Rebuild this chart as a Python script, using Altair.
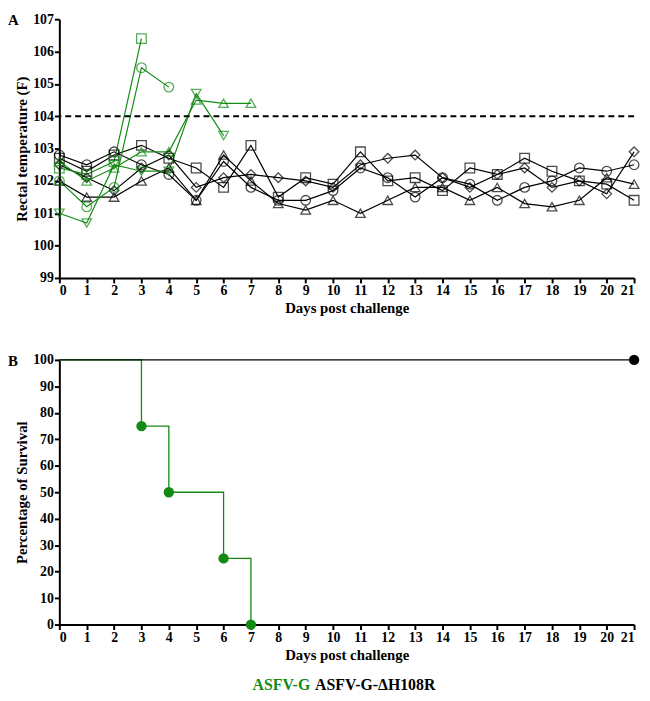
import altair as alt
import pandas as pd

days = list(range(22))

# ASFV-G-ΔH108R (black) rectal temperatures, days 0-21
blk_circle = [102.8, 102.5, 102.9, 102.5, 102.2, 101.4, 102.6, 101.8, 101.4, 101.4, 101.7, 102.4,
              102.1, 101.5, 102.1, 101.9, 101.4, 101.8, 102.0, 102.4, 102.3, 102.5]
blk_square = [102.7, 102.3, 102.8, 103.1, 102.7, 102.4, 101.8, 103.1, 101.5, 102.1, 101.9, 102.9,
              102.0, 102.1, 101.7, 102.4, 102.2, 102.7, 102.3, 102.0, 101.9, 101.4]
blk_triangle = [102.0, 101.5, 101.5, 102.0, 102.4, 101.4, 102.8, 102.0, 101.3, 101.1, 101.4, 101.0,
                101.4, 101.8, 101.8, 101.4, 101.8, 101.3, 101.2, 101.4, 102.1, 101.9]
blk_diamond = [102.5, 102.1, 101.7, 102.4, 102.8, 101.8, 102.1, 102.2, 102.1, 102.0, 101.8, 102.5,
               102.7, 102.8, 102.1, 101.8, 102.2, 102.4, 101.8, 102.0, 101.6, 102.9]

# ASFV-G (green) rectal temperatures until death
grn_circle = [102.0, 101.2, 101.8, 105.5, 104.9]
grn_square = [102.4, 102.2, 102.6, 106.4]
grn_tri_up = [102.6, 102.0, 102.4, 102.9, 102.9, 104.5, 104.4, 104.4]
grn_tri_down = [101.0, 100.7, 102.5, 102.3, 102.3, 104.7, 103.4]

# survival
surv_g_days = [0, 3, 4, 6, 7]
surv_g_pct = [100, 75, 50, 25, 0]
surv_g_death_days = [3, 4, 6, 7]
surv_g_death_pct = [75, 50, 25, 0]
surv_k_days = [0, 21]
surv_k_pct = [100, 100]

GREEN = "#138a13"
FONT = "Liberation Serif, Times New Roman, serif"

series = [
    ("B1", "ASFV-G-ΔH108R", "circle", blk_circle),
    ("B2", "ASFV-G-ΔH108R", "square", blk_square),
    ("B3", "ASFV-G-ΔH108R", "triangle-up", blk_triangle),
    ("B4", "ASFV-G-ΔH108R", "diamond", blk_diamond),
    ("G1", "ASFV-G", "circle", grn_circle),
    ("G2", "ASFV-G", "square", grn_square),
    ("G3", "ASFV-G", "triangle-up", grn_tri_up),
    ("G4", "ASFV-G", "triangle-down", grn_tri_down),
]
rows = []
for pig, grp, shp, vals in series:
    for d, v in zip(days, vals):
        rows.append({"pig": pig, "group": grp, "shape": shp, "day": d, "temp": v})
temp_df = pd.DataFrame(rows)

W = 582
HA, HB = 262, 268

color_scale = alt.Scale(domain=["ASFV-G", "ASFV-G-ΔH108R"], range=[GREEN, "black"])
shape_scale = alt.Scale(domain=["circle", "square", "triangle-up", "triangle-down", "diamond"],
                        range=["circle", "square", "triangle-up", "triangle-down", "diamond"])
yscaleA = alt.Scale(domain=[99, 107], nice=False, zero=False)
yaxisA = alt.Axis(values=list(range(99, 108)), title="Rectal temperature (F)", format="d")

xA = alt.X("day:Q", scale=alt.Scale(domain=[0, 21], nice=False),
           axis=alt.Axis(values=days, title="Days post challenge", format="d"))
yA = alt.Y("temp:Q", scale=yscaleA, axis=yaxisA)

base = alt.Chart(temp_df)
linesA = base.mark_line(strokeWidth=1.2).encode(
    x=xA, y=yA,
    color=alt.Color("group:N", scale=color_scale, legend=None),
    detail="pig:N",
)
pointsA = base.mark_point(filled=False, size=95, strokeWidth=1.3).encode(
    x=xA, y=yA,
    color=alt.Color("group:N", scale=color_scale, legend=None),
    shape=alt.Shape("shape:N", scale=shape_scale, legend=None),
)
dash = alt.Chart(pd.DataFrame({"t": [104]})).mark_rule(
    color="black", strokeWidth=2, strokeDash=[6, 4]).encode(
    y=alt.Y("t:Q", scale=yscaleA, axis=yaxisA))
one = pd.DataFrame({"a": [0]})
labelA = alt.Chart(one).mark_text(text="A", font=FONT, fontWeight="bold", fontSize=15,
                                  align="left", baseline="top", color="black").encode(
    x=alt.value(-52), y=alt.value(-6))

panelA = alt.layer(linesA, pointsA, dash, labelA).properties(width=W, height=HA)

# Panel B
g_df = pd.DataFrame({"day": surv_g_days, "pct": surv_g_pct})
gd_df = pd.DataFrame({"day": surv_g_death_days, "pct": surv_g_death_pct})
k_df = pd.DataFrame({"day": surv_k_days, "pct": surv_k_pct})
k_end = pd.DataFrame({"day": [surv_k_days[-1]], "pct": [surv_k_pct[-1]]})

xB = alt.X("day:Q", scale=alt.Scale(domain=[0, 21], nice=False),
           axis=alt.Axis(values=days, title="Days post challenge", format="d"))
yB = alt.Y("pct:Q", scale=alt.Scale(domain=[0, 100], nice=False),
           axis=alt.Axis(values=list(range(0, 101, 10)), title="Percentage of Survival"))

g_line = alt.Chart(g_df).mark_line(interpolate="step-after", color=GREEN, strokeWidth=1.3).encode(x=xB, y=yB)
k_line = alt.Chart(k_df).mark_line(color="black", strokeWidth=1.3).encode(x=xB, y=yB)
g_pts = alt.Chart(gd_df).mark_point(filled=True, size=110, color=GREEN, opacity=1).encode(x=xB, y=yB)
k_pts = alt.Chart(k_end).mark_point(filled=True, size=110, color="black", opacity=1).encode(x=xB, y=yB)
labelB = alt.Chart(one).mark_text(text="B", font=FONT, fontWeight="bold", fontSize=15,
                                  align="left", baseline="top", color="black").encode(
    x=alt.value(-52), y=alt.value(-6))
legG = alt.Chart(one).mark_text(text="ASFV-G", font=FONT, fontWeight="bold", fontSize=16,
                                align="right", baseline="middle", color=GREEN).encode(
    x=alt.value(254), y=alt.value(329))
legK = alt.Chart(one).mark_text(text="ASFV-G-ΔH108R", font=FONT, fontWeight="bold", fontSize=16,
                                align="left", baseline="middle", color="black").encode(
    x=alt.value(259), y=alt.value(329))

panelB = alt.layer(g_line, k_line, g_pts, k_pts, labelB, legG, legK).properties(width=W, height=HB)

chart = alt.vconcat(panelA, panelB, spacing=38).properties(
    padding={"left": 0, "right": 0, "top": 0, "bottom": 0}
).configure_view(stroke=None).configure_axis(
    grid=False,
    domainColor="black", domainWidth=2,
    tickColor="black", tickWidth=2, tickSize=5,
    labelFont=FONT, labelFontWeight="bold", labelFontSize=14, labelColor="black",
    titleFont=FONT, titleFontWeight="bold", titleFontSize=15, titleColor="black",
    labelPadding=1, titlePadding=3, labelOverlap=False,
)

chart.save("out.html", embed_options={"renderer": "svg", "actions": False})
